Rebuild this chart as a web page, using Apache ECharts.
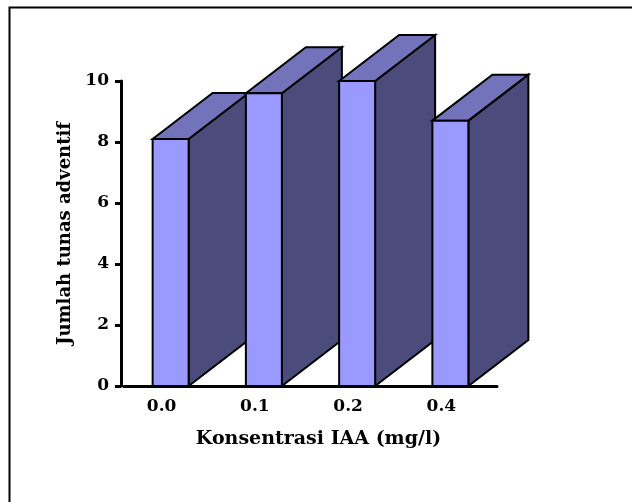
<!DOCTYPE html>
<html>
<head>
<meta charset="utf-8">
<script src="https://cdn.jsdelivr.net/npm/echarts@6/dist/echarts.min.js"></script>
<style>
html,body{margin:0;padding:0;background:#fff;}
#chart{width:632px;height:502px;}
</style>
</head>
<body>
<div id="chart"></div>
<script>
const categories = ['0.0', '0.1', '0.2', '0.4'];
const values = [8.1, 9.6, 10.0, 8.7];
const yTicks = { min: 0, max: 10, interval: 2 };
const xName = 'Konsentrasi IAA (mg/l)';
const yName = 'Jumlah tunas adventif';

const FONT = 'DejaVu Serif';
const BAR_RATIO = 0.386;
const DX = 60, DY = -46;

const chart = echarts.init(document.getElementById('chart'));
chart.setOption({
  backgroundColor: '#ffffff',
  animation: false,
  graphic: [{
    type: 'rect',
    shape: { x: 9.5, y: 7.5, width: 700, height: 600 },
    style: { fill: 'none', stroke: '#000', lineWidth: 2 },
    silent: true
  }],
  grid: { left: 124, top: 81, width: 373, height: 305 },
  xAxis: {
    type: 'category',
    data: categories,
    name: xName,
    nameLocation: 'middle',
    nameGap: 44,
    nameTextStyle: { fontFamily: FONT, fontWeight: 'bold', fontSize: 19, color: '#000', padding: [0, 0, 0, 16] },
    axisLine: { lineStyle: { color: '#000', width: 3 } },
    axisTick: { show: false },
    axisLabel: { fontFamily: FONT, fontWeight: 'bold', fontSize: 17, color: '#000', margin: 12, padding: [0, 18, 0, 0] }
  },
  yAxis: {
    type: 'value',
    min: yTicks.min, max: yTicks.max, interval: yTicks.interval,
    offset: 3,
    name: yName,
    nameLocation: 'middle',
    nameGap: 44,
    nameTextStyle: { fontFamily: FONT, fontWeight: 'bold', fontSize: 18, color: '#000' },
    axisLine: { show: true, lineStyle: { color: '#000', width: 3 } },
    axisTick: { show: true, length: 6, lineStyle: { color: '#000', width: 3 } },
    axisLabel: { fontFamily: FONT, fontWeight: 'bold', fontSize: 17, color: '#000', margin: 12 },
    splitLine: { show: false }
  },
  series: [{
    type: 'custom',
    clip: false,
    data: values.map((v, i) => [i, v]),
    encode: { x: 0, y: 1 },
    renderItem: function (params, api) {
      const x = api.value(0), y = api.value(1);
      const top = api.coord([x, y]);
      const base = api.coord([x, 0]);
      const w = api.size([1, 0])[0] * BAR_RATIO;
      const x0 = top[0] - w / 2, x1 = top[0] + w / 2, yt = top[1], yb = base[1];
      const stroke = { stroke: '#000', lineWidth: 2, lineJoin: 'miter' };
      return {
        type: 'group',
        children: [
          { type: 'polygon', shape: { points: [[x1, yt], [x1 + DX, yt + DY], [x1 + DX, yb + DY], [x1, yb]] },
            style: Object.assign({ fill: '#4b4b7c' }, stroke) },
          { type: 'polygon', shape: { points: [[x0, yt], [x0 + DX, yt + DY], [x1 + DX, yt + DY], [x1, yt]] },
            style: Object.assign({ fill: '#7373bb' }, stroke) },
          { type: 'rect', shape: { x: x0, y: yt, width: w, height: yb - yt },
            style: Object.assign({ fill: '#9999ff' }, stroke) }
        ]
      };
    }
  }]
});
</script>
</body>
</html>
